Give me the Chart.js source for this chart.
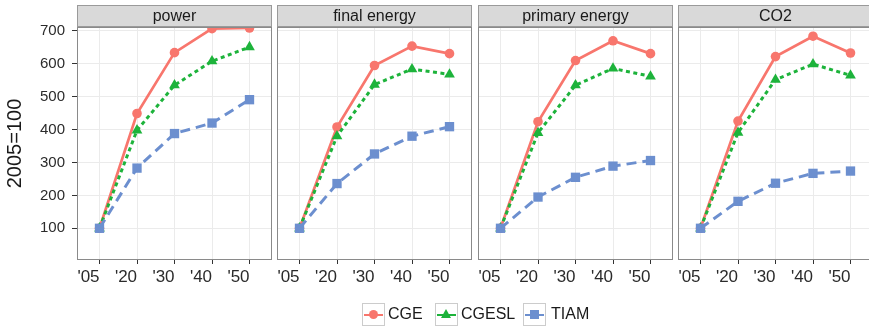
<!DOCTYPE html>
<html><head><meta charset="utf-8">
<script src="https://cdn.jsdelivr.net/npm/chart.js@4"></script>
<style>
html,body{margin:0;padding:0;background:#fff;overflow:hidden;width:869px;height:328px;}
#wrap{position:relative;width:869px;height:328px;overflow:hidden;background:#fff;}
canvas{position:absolute;left:0;top:0;}
.key{position:absolute;top:303px;width:21px;height:21px;border:1px solid #cccccc;background:#fff;}
.key .ln{position:absolute;left:1px;right:1px;top:9.5px;height:2.5px;}
.key .mk{position:absolute;}
.lbl{position:absolute;top:302px;font:16px "Liberation Sans",Arial,sans-serif;line-height:24px;color:#1a1a1a;white-space:nowrap;}
</style></head>
<body>
<div id="wrap"></div>
<script>
// ---- data ----
const categories = ["'05", "'20", "'30", "'40", "'50"];
const panelTitles = ["power", "final energy", "primary energy", "CO2"];
const seriesNames = ["CGE", "CGESL", "TIAM"];
const yTickValues = [100, 200, 300, 400, 500, 600, 700];
const yTitle = "2005=100";

const cgePower = [100, 449, 634, 707, 709];
const cgeslPower = [100, 398, 535, 608, 651];
const tiamPower = [100, 283, 388, 420, 491];

const cgeFinal = [100, 408, 595, 654, 631];
const cgeslFinal = [100, 380, 537, 584, 568];
const tiamFinal = [100, 236, 326, 380, 409];

const cgePrimary = [100, 424, 610, 670, 631];
const cgeslPrimary = [100, 390, 535, 586, 562];
const tiamPrimary = [100, 195, 255, 289, 306];

const cgeCO2 = [100, 426, 622, 684, 633];
const cgeslCO2 = [100, 391, 552, 599, 565];
const tiamCO2 = [100, 182, 237, 267, 274];

const panelSeries = [
  [cgePower, cgeslPower, tiamPower],
  [cgeFinal, cgeslFinal, tiamFinal],
  [cgePrimary, cgeslPrimary, tiamPrimary],
  [cgeCO2, cgeslCO2, tiamCO2]
];

// ---- styles / layout ----
const FONT = '"Liberation Sans", Arial, Helvetica, sans-serif';
const styles = [
  {color:'#F8766D', dash:[], width:2.7, point:'circle', radius:4.8, order:3},
  {color:'#1DB33B', dash:[4,3.5], width:3, point:'triangle', radius:6.2, order:2},
  {color:'#6C8FCF', dash:[10,6], width:3, point:'rect', radius:6.6, order:1}
];
const panelLefts = [77, 277, 478, 678];
const panelWidth = 195;
const W = 880, H = 328;
const panelTop = 27, panelBottom = 260;

const facetPlugin = {
  id: 'facet',
  afterDatasetsDraw(chart, args, opts) {
    const {ctx, chartArea: a} = chart;
    ctx.save();
    ctx.strokeStyle = '#8a8a8a';
    ctx.lineWidth = 1;
    ctx.strokeRect(a.left + 0.5, a.top + 0.5, a.right - a.left - 1, a.bottom - a.top - 1);
    ctx.fillStyle = '#D9D9D9';
    ctx.fillRect(a.left, 5, a.right - a.left, 22);
    ctx.strokeStyle = '#9a9a9a';
    ctx.strokeRect(a.left + 0.5, 5.5, a.right - a.left - 1, 21);
    ctx.fillStyle = '#1a1a1a';
    ctx.font = '16px ' + FONT;
    ctx.textAlign = 'center';
    ctx.textBaseline = 'middle';
    ctx.fillText(opts.title, (a.left + a.right) / 2, 16.5);
    ctx.restore();
  }
};

const wrap = document.getElementById('wrap');
panelTitles.forEach((title, p) => {
  const cv = document.createElement('canvas');
  cv.width = W; cv.height = H;
  cv.style.width = W + 'px'; cv.style.height = H + 'px';
  wrap.appendChild(cv);
  const first = p === 0;
  const left = panelLefts[p];
  const datasets = seriesNames.map((name, s) => ({
    label: name,
    data: panelSeries[p][s].map((v, i) => ({x: i, y: v})),
    borderColor: styles[s].color,
    backgroundColor: styles[s].color,
    borderWidth: styles[s].width,
    borderDash: styles[s].dash,
    pointStyle: styles[s].point,
    pointRadius: styles[s].radius,
    pointBackgroundColor: styles[s].color,
    pointBorderColor: styles[s].color,
    pointBorderWidth: 0,
    tension: 0,
    order: styles[s].order,
    clip: 0
  }));
  new Chart(cv, {
    type: 'line',
    data: {datasets},
    plugins: [facetPlugin],
    options: {
      responsive: false,
      animation: false,
      devicePixelRatio: 1,
      events: [],
      layout: {padding: {left: first ? 0 : left, right: W - left - panelWidth, top: panelTop, bottom: 0}},
      plugins: {
        legend: {display: false},
        tooltip: {enabled: false},
        facet: {title: title}
      },
      scales: {
        x: {
          type: 'linear',
          min: -0.6, max: 4.6,
          afterBuildTicks: s => { s.ticks = categories.map((c, i) => ({value: i})); },
          afterFit: s => { s.height = H - panelBottom; },
          border: {display: false},
          grid: {color: '#EBEBEB', lineWidth: 1, tickLength: 4, tickColor: '#333333', drawTicks: true},
          ticks: {
            autoSkip: false, maxRotation: 0, minRotation: 0,
            padding: 3, labelOffset: -11,
            color: '#2b2b2b',
            font: {family: FONT, size: 17},
            callback: v => categories[v]
          }
        },
        y: {
          type: 'linear',
          min: 3.6, max: 712,
          afterBuildTicks: s => { s.ticks = yTickValues.map(v => ({value: v})); },
          afterFit: s => { s.width = first ? left : 0; },
          border: {display: false},
          grid: {color: '#EBEBEB', lineWidth: 1, tickLength: 5, tickColor: '#333333', drawTicks: first},
          ticks: {
            display: first,
            padding: 7,
            color: '#2b2b2b',
            font: {family: FONT, size: 15},
            callback: v => String(v)
          },
          title: {
            display: first,
            text: yTitle,
            color: '#1a1a1a',
            font: {family: FONT, size: 20},
            padding: {top: 3.5, bottom: 0}
          }
        }
      }
    }
  });
});

// ---- legend (HTML) ----
const keyLefts = [362, 435, 523];
const textLefts = [388, 461, 551];
seriesNames.forEach((name, s) => {
  const st = styles[s];
  const k = document.createElement('div');
  k.className = 'key';
  k.style.left = keyLefts[s] + 'px';
  const ln = document.createElement('div');
  ln.className = 'ln';
  ln.style.background = st.color;
  k.appendChild(ln);
  const mk = document.createElement('div');
  mk.className = 'mk';
  if (st.point === 'circle') {
    Object.assign(mk.style, {width:'9px', height:'9px', borderRadius:'50%', background:st.color, left:'6px', top:'6px'});
  } else if (st.point === 'triangle') {
    Object.assign(mk.style, {width:'0', height:'0', borderLeft:'5.5px solid transparent', borderRight:'5.5px solid transparent', borderBottom:'9px solid ' + st.color, left:'5px', top:'5px'});
  } else {
    Object.assign(mk.style, {width:'9px', height:'9px', background:st.color, left:'6px', top:'6px'});
  }
  k.appendChild(mk);
  wrap.appendChild(k);
  const t = document.createElement('div');
  t.className = 'lbl';
  t.style.left = textLefts[s] + 'px';
  t.textContent = name;
  wrap.appendChild(t);
});
</script>
</body></html>
